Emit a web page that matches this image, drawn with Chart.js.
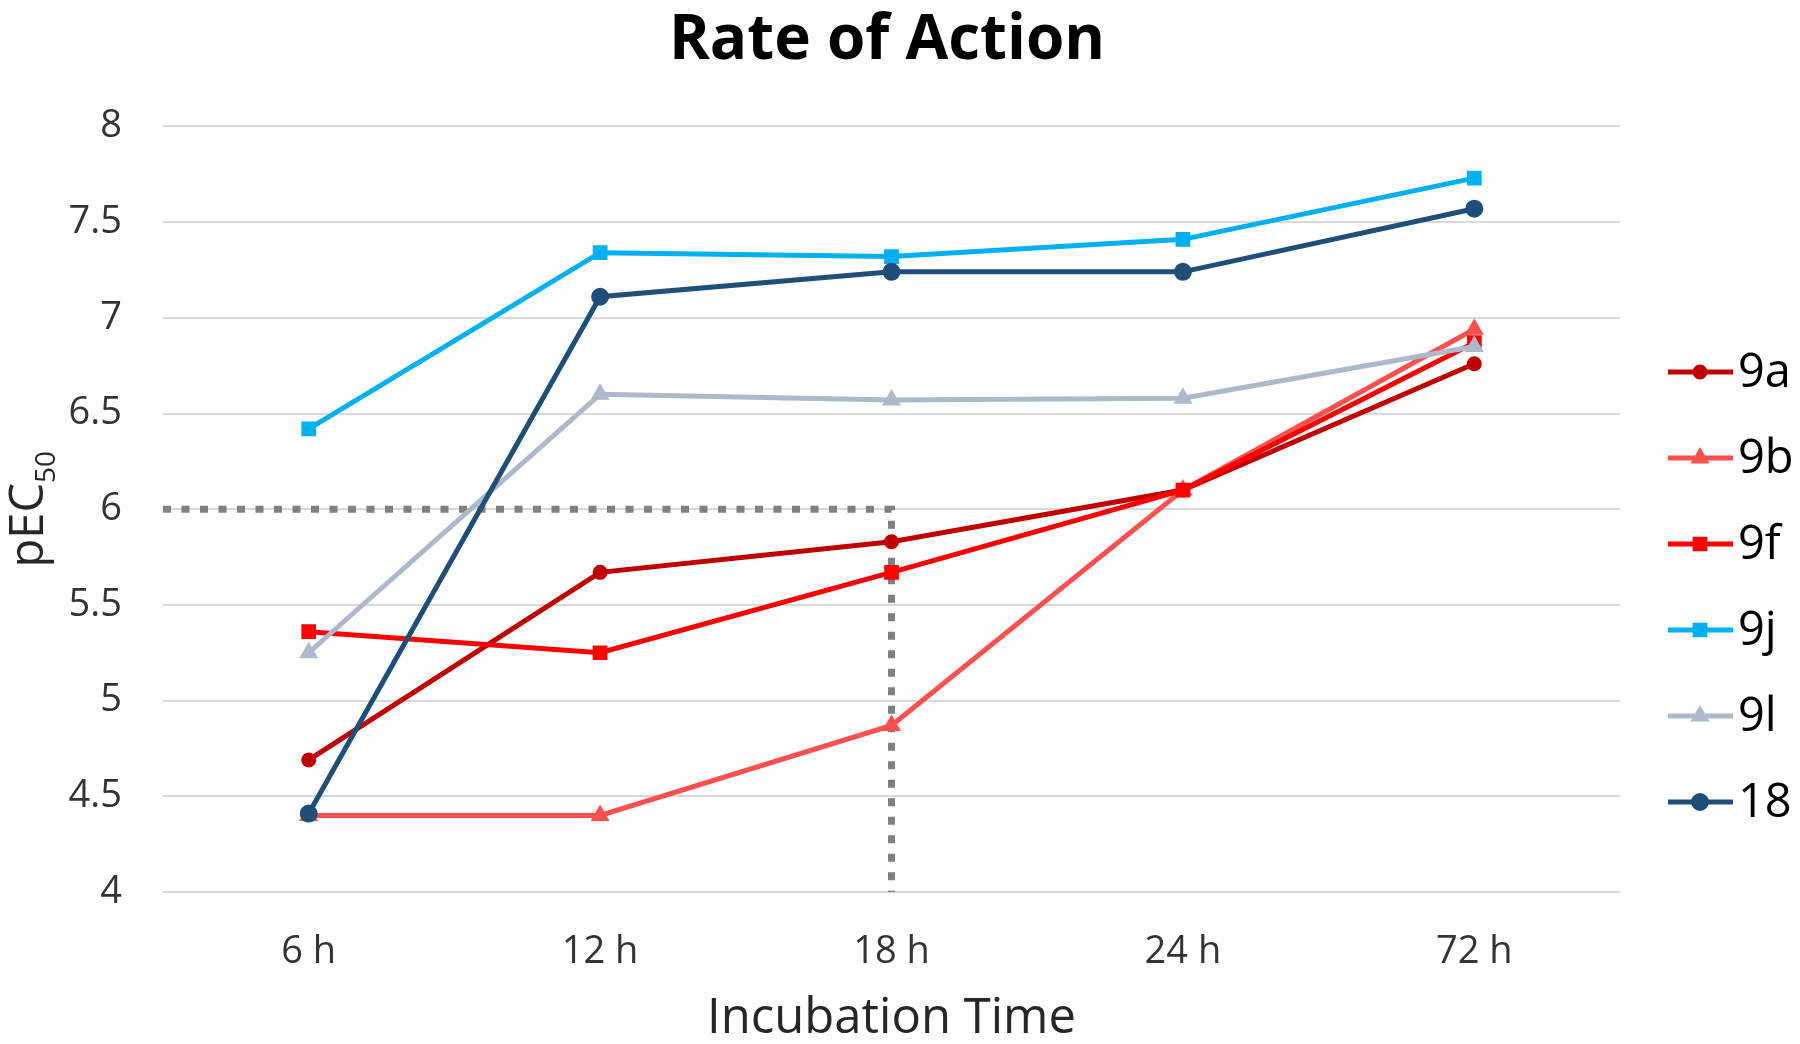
<!DOCTYPE html>
<html lang="en">
<head>
<meta charset="UTF-8">
<title>Rate of Action</title>
<script src="https://cdn.jsdelivr.net/npm/chart.js"></script>
<style>
    html, body {
        margin: 0;
        padding: 0;
        background: #ffffff;
    }
    #wrap {
        width: 1800px;
        height: 1044px;
    }
</style>
</head>
<body>
<div id="wrap"><canvas id="rateChart"></canvas></div>
<script>
    // categories and values (pEC50)
    const timePoints = ['6 h', '12 h', '18 h', '24 h', '72 h'];

    const pec9a = [4.69, 5.67, 5.83, 6.10, 6.76];
    const pec9b = [4.40, 4.40, 4.87, 6.10, 6.94];
    const pec9f = [5.36, 5.25, 5.67, 6.10, 6.87];
    const pec9j = [6.42, 7.34, 7.32, 7.41, 7.73];
    const pec9l = [5.25, 6.60, 6.57, 6.58, 6.85];
    const pec18 = [4.41, 7.11, 7.24, 7.24, 7.57];

    // dotted guide: pEC50 = 6 reached at 18 h
    const guideValue = 6;
    const guideTime = '18 h';

    const fontFamily = '"Open Sans", "Noto Sans", sans-serif';
    Chart.defaults.font.family = fontFamily;

    function series(label, data, color, style, radius, order) {
        return {
            label: label,
            data: data,
            borderColor: color,
            backgroundColor: color,
            borderWidth: 5,
            pointStyle: style,
            pointRadius: radius,
            pointHoverRadius: radius,
            pointBackgroundColor: color,
            pointBorderColor: color,
            pointBorderWidth: 2,
            tension: 0,
            order: order
        };
    }

    // guide line, drawn under the series
    const guidePlugin = {
        id: 'guide',
        beforeDatasetsDraw(chart) {
            const ctx = chart.ctx;
            const xs = chart.scales.x;
            const ys = chart.scales.y;
            const yPix = ys.getPixelForValue(guideValue);
            const xPix = xs.getPixelForValue(timePoints.indexOf(guideTime));
            ctx.save();
            ctx.strokeStyle = '#808080';
            ctx.lineWidth = 7;
            ctx.setLineDash([8, 10.5]);
            ctx.beginPath();
            ctx.moveTo(chart.chartArea.left, yPix);
            ctx.lineTo(xPix, yPix);
            ctx.lineTo(xPix, ys.getPixelForValue(ys.min));
            ctx.stroke();
            ctx.restore();
        }
    };

    // y title with real subscript, and the legend at the right
    const sidePlugin = {
        id: 'side',
        afterDraw(chart) {
            const ctx = chart.ctx;
            const area = chart.chartArea;

            ctx.save();
            ctx.fillStyle = '#262626';
            ctx.textBaseline = 'alphabetic';
            ctx.font = '47px ' + fontFamily;
            const w1 = ctx.measureText('pEC').width;
            ctx.font = '28px ' + fontFamily;
            const w2 = ctx.measureText('50').width;
            const cy = (area.top + area.bottom) / 2;
            ctx.translate(43, cy + (w1 + w2) / 2);
            ctx.rotate(-Math.PI / 2);
            ctx.font = '47px ' + fontFamily;
            ctx.fillText('pEC', 0, 0);
            ctx.font = '28px ' + fontFamily;
            ctx.fillText('50', w1, 12);
            ctx.restore();

            const x0 = area.right + 48;
            chart.data.datasets.forEach((ds, i) => {
                const y = 372 + i * 86;
                ctx.save();
                ctx.strokeStyle = ds.borderColor;
                ctx.lineWidth = ds.borderWidth;
                ctx.beginPath();
                ctx.moveTo(x0, y);
                ctx.lineTo(x0 + 65, y);
                ctx.stroke();
                ctx.fillStyle = ds.pointBackgroundColor;
                ctx.strokeStyle = ds.pointBorderColor;
                ctx.lineWidth = ds.pointBorderWidth;
                Chart.helpers.drawPoint(ctx, {
                    pointStyle: ds.pointStyle,
                    radius: ds.pointRadius,
                    borderWidth: ds.pointBorderWidth,
                    rotation: 0
                }, x0 + 32, y);
                ctx.fillStyle = '#000000';
                ctx.font = '47px ' + fontFamily;
                ctx.textBaseline = 'middle';
                ctx.fillText(ds.label, x0 + 70, y + 2);
                ctx.restore();
            });
        }
    };

    const ctx1 = document.getElementById('rateChart').getContext('2d');
    const rateChart = new Chart(ctx1, {
        type: 'line',
        data: {
            labels: timePoints,
            datasets: [
                series('9a', pec9a, '#C00000', 'circle', 6.5, 6),
                series('9b', pec9b, '#FF5050', 'triangle', 9, 5),
                series('9f', pec9f, '#FF0000', 'rect', 9, 4),
                series('9j', pec9j, '#00B0F0', 'rect', 9, 3),
                series('9l', pec9l, '#ADB9CA', 'triangle', 9, 2),
                series('18', pec18, '#1F4E79', 'circle', 8, 1)
            ]
        },
        options: {
            responsive: true,
            maintainAspectRatio: false,
            animation: false,
            layout: {
                padding: { left: 0, right: 26, top: 0, bottom: 0 }
            },
            plugins: {
                legend: { display: false },
                tooltip: { enabled: false },
                title: {
                    display: true,
                    text: 'Rate of Action',
                    color: '#000000',
                    font: { size: 62, weight: 'bold' },
                    padding: { top: 4, bottom: 48 }
                }
            },
            scales: {
                x: {
                    offset: true,
                    grid: { display: false },
                    border: { display: false },
                    ticks: {
                        color: '#333333',
                        font: { size: 38 },
                        padding: 29
                    },
                    title: {
                        display: true,
                        text: 'Incubation Time',
                        color: '#262626',
                        font: { size: 49, lineHeight: 1.0 },
                        padding: { top: 20, bottom: 0 }
                    },
                    afterFit: (scale) => { scale.height = 152; }
                },
                y: {
                    min: 4,
                    max: 8,
                    grid: {
                        color: '#D9D9D9',
                        lineWidth: 2,
                        drawTicks: false
                    },
                    border: { display: false },
                    ticks: {
                        stepSize: 0.5,
                        color: '#333333',
                        font: { size: 38 },
                        padding: 41,
                        callback: (v) => String(v)
                    },
                    afterFit: (scale) => { scale.width = 163; }
                },
                // empty right-hand axis that keeps room for the legend
                legendSpace: {
                    type: 'linear',
                    position: 'right',
                    grid: { display: false },
                    border: { display: false },
                    ticks: { display: false },
                    afterFit: (scale) => { scale.width = 154; }
                }
            }
        },
        plugins: [guidePlugin, sidePlugin]
    });
</script>
</body>
</html>
